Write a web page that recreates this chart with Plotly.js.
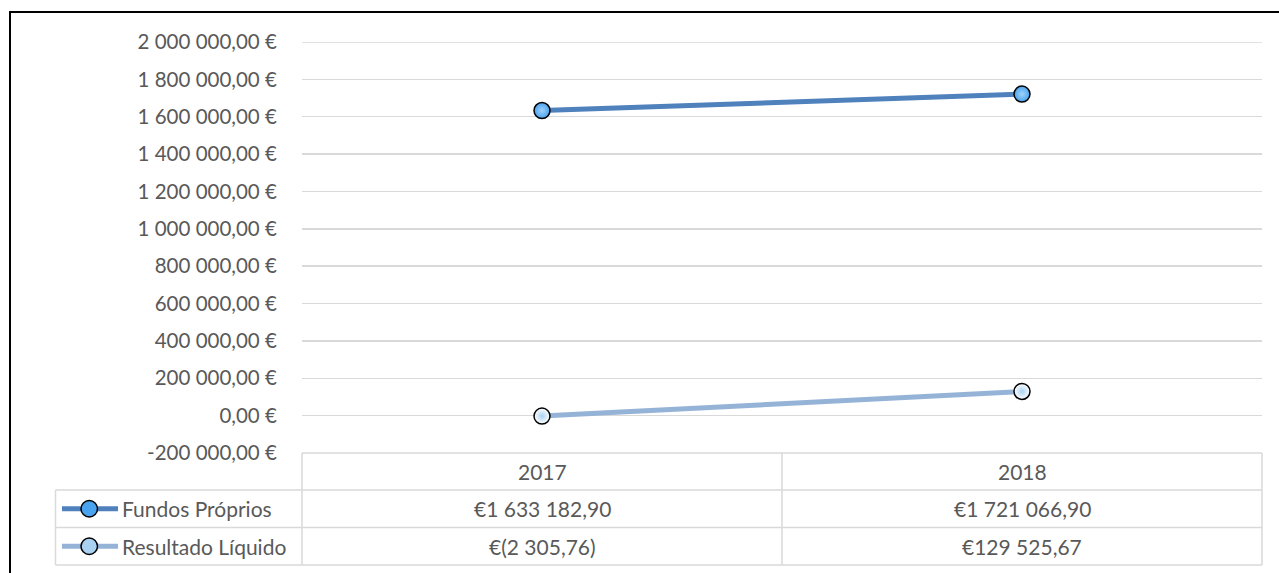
<!DOCTYPE html>
<html><head><meta charset="utf-8">
<script src="https://cdn.plot.ly/plotly-3.0.1.min.js"></script>
<style>html,body{margin:0;padding:0;background:#fff}#chart{width:1279px;height:573px}</style>
</head><body><div id="chart"></div>
<script>
// ---- data ----
const categories = ['2017', '2018'];
const seriesNames = ['Fundos Próprios', 'Resultado Líquido'];
const fundosProprios = [1633182.90, 1721066.90];
const resultadoLiquido = [-2305.76, 129525.67];
const tableFundos = ['€1 633 182,90', '€1 721 066,90'];
const tableResultado = ['€(2 305,76)', '€129 525,67'];
const yTickValues = [-200000, 0, 200000, 400000, 600000, 800000, 1000000, 1200000, 1400000, 1600000, 1800000, 2000000];

// ---- formatting ----
function fmtEuro(v) {
  const neg = v < 0; const a = Math.abs(v);
  const parts = a.toFixed(2).split('.');
  const int = parts[0].replace(/\B(?=(\d{3})+(?!\d))/g, ' ');
  return (neg ? '-' : '') + int + ',' + parts[1] + ' €';
}
const yTickText = yTickValues.map(fmtEuro);

// ---- geometry (pixels) ----
const W = 1279, H = 573;
const L = 302, R = 1262, T = 42, B = 453;
const px = x => (x - L) / (R - L);
const py = y => (B - y) / (B - T);

const FONT = 'Lato, "Open Sans", sans-serif';
const TXT = '#595959';
const GRID = '#d9d9d9';
const colors = ['#4f81bd', '#95b3d7'];
const markerFill = ['#4aa3ee', '#cde8fb'];
const markerGrad = ['#9fd3fa', '#a9d2f2'];

const traces = [
  {x: categories, y: fundosProprios, name: seriesNames[0], type: 'scatter', mode: 'lines+markers',
   line: {color: colors[0], width: 5},
   marker: {size: 16, color: markerFill[0], line: {color: '#000', width: 1.5}, gradient: {type: 'radial', color: markerGrad[0]}},
   hoverinfo: 'skip'},
  {x: categories, y: resultadoLiquido, name: seriesNames[1], type: 'scatter', mode: 'lines+markers',
   line: {color: colors[1], width: 5},
   marker: {size: 16, color: '#ffffff', line: {color: '#000', width: 1.5}, gradient: {type: 'radial', color: markerGrad[1]}},
   hoverinfo: 'skip'}
];

const shapes = [];
const annotations = [];
const gl = (x0, y0, x1, y1, color, width, layer) => shapes.push({type: 'line', xref: 'paper', yref: 'paper',
  x0: px(x0), y0: py(y0), x1: px(x1), y1: py(y1), line: {color: color, width: width}, layer: layer || 'above'});

// outer frame
shapes.push({type: 'rect', xref: 'paper', yref: 'paper', x0: px(10), y0: py(12), x1: px(1285), y1: py(580),
  line: {color: '#000', width: 2}, fillcolor: 'rgba(0,0,0,0)', layer: 'below'});

// top gridline (range edge)
shapes.push({type: 'line', xref: 'paper', yref: 'y', x0: 0, x1: 1, y0: yTickValues[yTickValues.length - 1], y1: yTickValues[yTickValues.length - 1],
  line: {color: GRID, width: 1.5}, layer: 'below'});

// data table grid
const rowY = [453, 490, 527.5, 565];
const colX = [55.5, 302, 782, 1262];
gl(302, rowY[0], 1262, rowY[0], GRID, 1.5);
for (let i = 1; i < rowY.length; i++) gl(colX[0], rowY[i], 1262, rowY[i], GRID, 1.5);
gl(colX[0], rowY[1], colX[0], rowY[3], GRID, 1.5);
for (let j = 1; j < colX.length; j++) gl(colX[j], rowY[0], colX[j], rowY[3], GRID, 1.5);

const tfont = {family: FONT, size: 21, color: TXT};
const ann = (x, y, text, xanchor) => annotations.push({xref: 'paper', yref: 'paper', x: px(x), y: py(y), text: text,
  showarrow: false, xanchor: xanchor || 'center', yanchor: 'middle', font: tfont});

categories.forEach((c, i) => {
  const cx = (colX[i + 1] + colX[i + 2]) / 2;
  ann(cx, (rowY[0] + rowY[1]) / 2, c);
  ann(cx, (rowY[1] + rowY[2]) / 2, tableFundos[i]);
  ann(cx, (rowY[2] + rowY[3]) / 2, tableResultado[i]);
});

// legend keys
seriesNames.forEach((n, i) => {
  const cy = (rowY[i + 1] + rowY[i + 2]) / 2;
  gl(62, cy, 118, cy, colors[i], 5);
  shapes.push({type: 'circle', xref: 'paper', yref: 'paper', x0: px(81), x1: px(97.5), y0: py(cy - 8.25), y1: py(cy + 8.25),
    fillcolor: i === 0 ? markerFill[0] : markerGrad[1], line: {color: '#000', width: 1.5}, layer: 'above'});
  ann(120, cy, n, 'left');
});

const layout = {
  width: W, height: H,
  margin: {l: L, r: W - R, t: T, b: H - B, pad: 0},
  paper_bgcolor: '#fff', plot_bgcolor: '#fff',
  showlegend: false,
  xaxis: {type: 'category', range: [-0.5, 1.5], showgrid: false, showline: false, zeroline: false,
          showticklabels: false, ticks: '', fixedrange: true},
  yaxis: {range: [-200000, 2000000], tickvals: yTickValues, ticktext: yTickText,
          showgrid: true, gridcolor: GRID, gridwidth: 1.5, zeroline: false, showline: false,
          ticks: 'outside', ticklen: 20, tickcolor: 'rgba(0,0,0,0)',
          tickfont: {family: FONT, size: 20.5, color: TXT}, fixedrange: true},
  shapes: shapes,
  annotations: annotations
};

Plotly.newPlot('chart', traces, layout, {displayModeBar: false, staticPlot: true});
</script></body></html>
